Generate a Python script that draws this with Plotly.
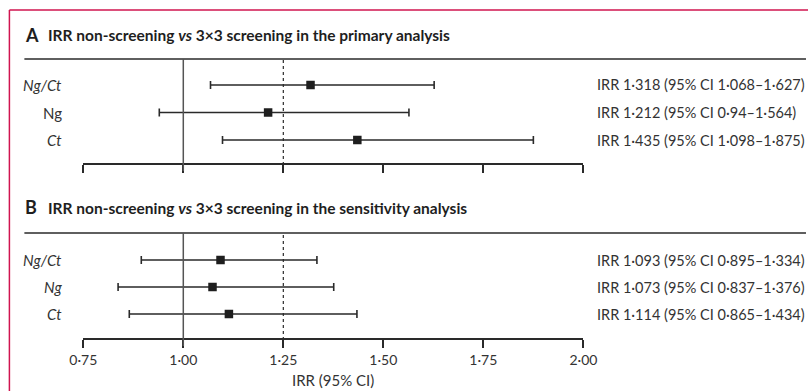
import plotly.graph_objects as go

# ---- data ----
categories = ["Ng/Ct", "Ng", "Ct"]
labels_a = ["<i>Ng/Ct</i>", "Ng", "<i>Ct</i>"]
labels_b = ["<i>Ng/Ct</i>", "<i>Ng</i>", "<i>Ct</i>"]

irr_a = [1.318, 1.212, 1.435]
low_a = [1.068, 0.94, 1.098]
high_a = [1.627, 1.564, 1.875]

irr_b = [1.093, 1.073, 1.114]
low_b = [0.895, 0.837, 0.865]
high_b = [1.334, 1.376, 1.434]

tick_vals = [0.75, 1.00, 1.25, 1.50, 1.75, 2.00]
tick_text = ["0·75", "1·00", "1·25", "1·50", "1·75", "2·00"]

title_a = "IRR non-screening <i>vs</i> 3×3 screening in the primary analysis"
title_b = "IRR non-screening <i>vs</i> 3×3 screening in the sensitivity analysis"
x_title = "IRR (95% CI)"

# ---- layout helpers ----
W, H = 830, 391
FONT = "Lato"
DARK = "#2a2a2a"
RED = "#d0144f"

SX, OX = 0.968, 12.6  # observed horizontal mapping of the capture


def px(x):
    return (x - OX) / SX / W


def py(y):
    return 1 - y / H


def fmt(v):
    return str(v).replace(".", "·")


row_y = [3, 2, 1]

fig = go.Figure()

for irr, lo, hi, xa, ya in [(irr_a, low_a, high_a, "x", "y"), (irr_b, low_b, high_b, "x2", "y2")]:
    fig.add_trace(
        go.Scatter(
            x=irr,
            y=row_y,
            xaxis=xa,
            yaxis=ya,
            mode="markers",
            marker=dict(symbol="square", size=8.5, color="#1e1e1e"),
            error_x=dict(
                type="data",
                symmetric=False,
                array=[h - m for h, m in zip(hi, irr)],
                arrayminus=[m - l for m, l in zip(irr, lo)],
                color=DARK,
                thickness=1.6,
                width=4,
            ),
            showlegend=False,
            hoverinfo="skip",
        )
    )

xdom = [px(82), px(583)]
axis_common = dict(
    range=[0.75, 2.0],
    domain=xdom,
    showgrid=False,
    zeroline=False,
    showline=True,
    linecolor=DARK,
    linewidth=1.5,
    ticks="outside",
    ticklen=8,
    tickwidth=1.5,
    tickcolor=DARK,
    tickvals=tick_vals,
    ticktext=tick_text,
    tickfont=dict(family=FONT, size=14, color="#333"),
    fixedrange=True,
)

fig.update_layout(
    width=W,
    height=H,
    margin=dict(l=0, r=0, t=0, b=0),
    paper_bgcolor="white",
    plot_bgcolor="white",
    font=dict(family=FONT, size=13, color="#2a2a2a"),
    xaxis=dict(axis_common, anchor="y", showticklabels=False),
    yaxis=dict(domain=[py(163), py(59)], range=[0.164, 3.945], visible=False, anchor="x"),
    xaxis2=dict(axis_common, anchor="y2", showticklabels=True),
    yaxis2=dict(domain=[py(338), py(233)], range=[0.111, 4.0], visible=False, anchor="x2"),
)

shapes = []
# red frame (top + left)
shapes.append(dict(type="line", xref="paper", yref="paper", x0=px(8), x1=px(8), y0=0, y1=py(10),
                   line=dict(color=RED, width=1.5)))
shapes.append(dict(type="line", xref="paper", yref="paper", x0=px(8), x1=1.0, y0=py(10), y1=py(10),
                   line=dict(color=RED, width=1.5)))
# rules under titles
for yy in (59, 233):
    shapes.append(dict(type="line", xref="paper", yref="paper", x0=px(23), x1=px(806), y0=py(yy), y1=py(yy),
                       line=dict(color=DARK, width=1.5)))
# reference lines
for xa, top, bot in (("x", 59, 171), ("x2", 233, 346)):
    shapes.append(dict(type="line", xref=xa, yref="paper", x0=1.0, x1=1.0, y0=py(bot), y1=py(top),
                       line=dict(color="#555", width=1.5)))
    shapes.append(dict(type="line", xref=xa, yref="paper", x0=1.25, x1=1.25, y0=py(bot), y1=py(top),
                       line=dict(color=DARK, width=1.2, dash="3px,3px")))
fig.update_layout(shapes=shapes)

ann = []
for letter, ttl, ty in (("A", title_a, 34.5), ("B", title_b, 206.5)):
    ann.append(dict(text=f"<b>{letter}</b>", xref="paper", yref="paper", x=px(22), y=py(ty),
                    xanchor="left", yanchor="middle", showarrow=False,
                    font=dict(family=FONT, size=18, color="#1e1e1e")))
    ann.append(dict(text=f"<b>{ttl}</b>", xref="paper", yref="paper", x=px(45), y=py(ty + 1),
                    xanchor="left", yanchor="middle", showarrow=False,
                    font=dict(family=FONT, size=15.5, color="#1e1e1e")))

for labels, irr, lo, hi, ya in ((labels_a, irr_a, low_a, high_a, "y"), (labels_b, irr_b, low_b, high_b, "y2")):
    for lab, yv, m, l, h in zip(labels, row_y, irr, lo, hi):
        ann.append(dict(text=lab, xref="paper", yref=ya, x=px(63), y=yv, xanchor="right", yanchor="middle",
                        showarrow=False, font=dict(family=FONT, size=15, color="#333")))
        ann.append(dict(text=f"IRR {fmt(m)} (95% CI {fmt(l)}–{fmt(h)})", xref="paper", yref=ya,
                        x=px(595), y=yv, xanchor="left", yanchor="middle", showarrow=False,
                        font=dict(family=FONT, size=14.5, color="#333")))

ann.append(dict(text=x_title, xref="paper", yref="paper", x=px(332), y=py(380), xanchor="center",
                yanchor="middle", showarrow=False, font=dict(family=FONT, size=15, color="#333")))
fig.update_layout(annotations=ann)

fig.write_html(
    "out.html",
    config={"displayModeBar": False},
    post_script="document.body.style.margin='0';document.body.style.overflow='hidden';",
)
